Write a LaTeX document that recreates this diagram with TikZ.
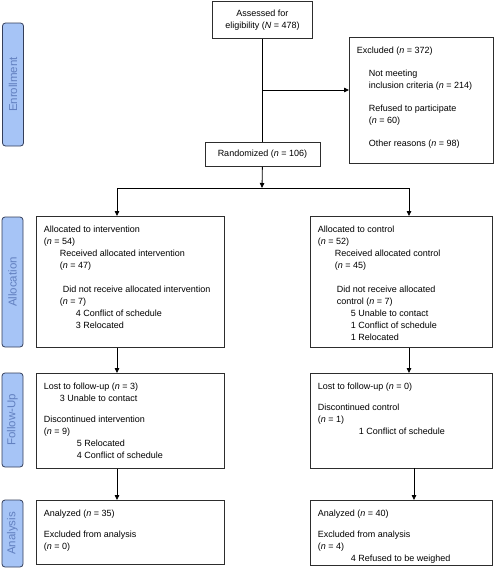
\documentclass[tikz,border=0pt]{standalone}
\usepackage{fontspec}
\setmainfont{Liberation Sans}
\usetikzlibrary{arrows.meta}
\definecolor{tabfill}{RGB}{166,196,246}
\definecolor{tabtext}{RGB}{98,128,192}
\definecolor{tabline}{RGB}{52,62,90}
\definecolor{boxline}{RGB}{45,45,45}
\def\nn#1{(\textit{n} = #1)}
\def\ind#1{\hspace*{#1pt}}
\def\boxtext#1#2#3{\parbox[c][#2pt][t]{#1pt}{\fontsize{9}{12}\selectfont\vspace*{7.9pt}\strut#3}}
\tikzset{
  box/.style={draw=boxline, line width=0.8pt, anchor=north west, inner xsep=7.5pt, inner ysep=0pt},
  cbox/.style={draw=boxline, line width=0.8pt, anchor=north west, align=center,
    font=\fontsize{9}{12}\selectfont, inner sep=0pt},
  tab/.style={draw=tabline, fill=tabfill, rounded corners=3pt, line width=0.8pt, rotate=90,
    text=tabtext, font=\fontsize{11.5}{13}\selectfont, minimum height=21pt, inner sep=0pt},
  link/.style={draw=black, line width=0.8pt},
  flow/.style={link, -{Triangle[length=5pt,width=4.5pt]}}
}

\begin{document}
\begin{tikzpicture}[x=1pt, y=-1pt]
  \useasboundingbox (0,0) rectangle (494,568);
  % stage tabs
  \node[tab, minimum width=123pt] (tabenrol)  at (13,84.5)   {Enrollment};
  \node[tab, minimum width=130pt] (taballoc)  at (12.5,282)  {Allocation};
  \node[tab, minimum width=94pt]  (tabfollow) at (12.5,420)  {Follow-Up};
  \node[tab, minimum width=67pt]  (tabanaly)  at (12.5,533.5) {Analysis};
  % enrollment
  \node[cbox, minimum width=100pt, minimum height=37pt] (assess) at (212,1)
    {Assessed for\\eligibility (\textit{N} = 478)};
  \node[box] (excl) at (349,37) {\boxtext{129}{126}{Excluded \nn{372}\\[11pt]
    \ind{12}Not meeting\\ \ind{12}inclusion criteria \nn{214}\\[11pt]
    \ind{12}Refused to participate\\ \ind{12}\nn{60}\\[11pt]
    \ind{12}Other reasons \nn{98}}};
  \node[cbox, minimum width=115pt, minimum height=24pt] (rand) at (204.5,142)
    {Randomized \nn{106}};
  % allocation
  \node[box] (allocI) at (36,216) {\boxtext{173}{131}{Allocated to intervention\\ \nn{54}\\
    \ind{16}Received allocated intervention\\ \ind{16}\nn{47}\\[12pt]
    \ind{19}Did not receive allocated intervention\\ \ind{16}\nn{7}\\
    \ind{32}4 Conflict of schedule\\ \ind{32}3 Relocated}};
  \node[box] (allocC) at (310,216) {\boxtext{167}{131}{Allocated to control\\ \nn{52}\\
    \ind{17}Received allocated control\\ \ind{17}\nn{45}\\[12pt]
    \ind{19}Did not receive allocated\\ \ind{19}control \nn{7}\\
    \ind{33}5 Unable to contact\\ \ind{33}1 Conflict of schedule\\ \ind{33}1 Relocated}};
  % follow-up
  \node[box] (followI) at (36,373) {\boxtext{173}{95}{Lost to follow-up \nn{3}\\
    \ind{16}3 Unable to contact\\[9pt]
    Discontinued intervention\\ \nn{9}\\
    \ind{33}5 Relocated\\ \ind{33}4 Conflict of schedule}};
  \node[box] (followC) at (310,373) {\boxtext{167}{95}{Lost to follow-up \nn{0}\\[9pt]
    Discontinued control\\ \nn{1}\\ \ind{41}1 Conflict of schedule}};
  % analysis
  \node[box] (analyI) at (36,500) {\boxtext{173}{64}{Analyzed \nn{35}\\[9pt]
    Excluded from analysis\\ \nn{0}}};
  \node[box] (analyC) at (310,500) {\boxtext{167}{65}{Analyzed \nn{40}\\[9pt]
    Excluded from analysis\\ \nn{4}\\ \ind{33}4 Refused to be weighed}};
  % connectors
  \coordinate (split) at (262,90);
  \coordinate (fork)  at (262,188);
  \coordinate (forkI) at (117,188);
  \coordinate (forkC) at (409,188);
  \coordinate (dropC) at (414,468);
  \draw[link] (assess.south) -- (rand.north);
  \draw[flow] (split) -- (split -| excl.west);
  \draw[flow] (rand.south) -- (fork);
  \draw[link] (forkI) -- (forkC);
  \draw[flow] (forkI) -- (forkI |- allocI.north);
  \draw[flow] (forkC) -- (forkC |- allocC.north);
  \draw[flow] (forkI |- allocI.south) -- (forkI |- followI.north);
  \draw[flow] (forkC |- allocC.south) -- (forkC |- followC.north);
  \draw[flow] (forkI |- followI.south) -- (forkI |- analyI.north);
  \draw[flow] (dropC) -- (dropC |- analyC.north);
\end{tikzpicture}
\end{document}
